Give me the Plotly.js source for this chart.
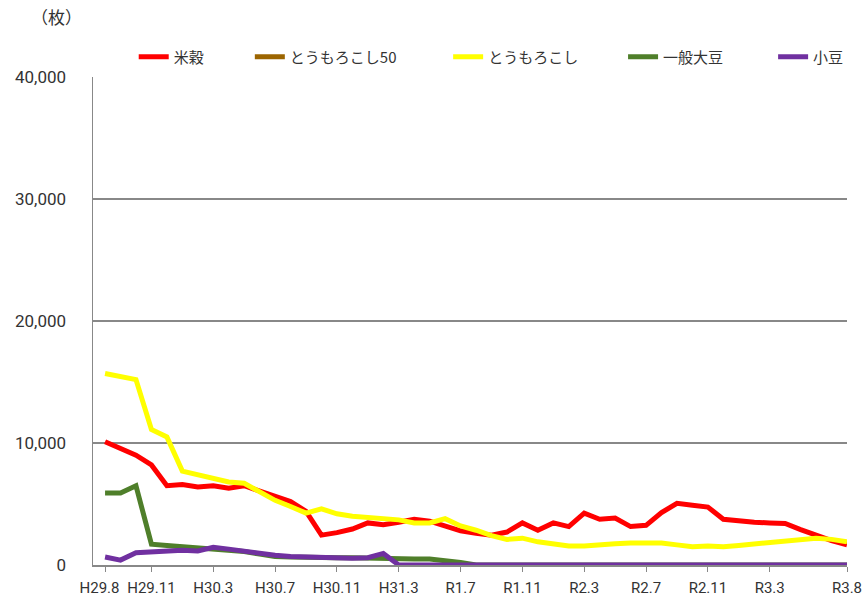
<!DOCTYPE html>
<html>
<head>
<meta charset="utf-8">
<script src="https://cdn.plot.ly/plotly-3.0.1.min.js"></script>
<style>html,body{margin:0;padding:0;background:#fff;}#chart{width:867px;height:604px;}</style>
</head>
<body>
<div id="chart"></div>
<script>
const months = ['H29.8','H29.9','H29.10','H29.11','H29.12',
  'H30.1','H30.2','H30.3','H30.4','H30.5','H30.6','H30.7','H30.8','H30.9','H30.10','H30.11','H30.12',
  'H31.1','H31.2','H31.3','H31.4',
  'R1.5','R1.6','R1.7','R1.8','R1.9','R1.10','R1.11','R1.12',
  'R2.1','R2.2','R2.3','R2.4','R2.5','R2.6','R2.7','R2.8','R2.9','R2.10','R2.11','R2.12',
  'R3.1','R3.2','R3.3','R3.4','R3.5','R3.6','R3.7','R3.8'];
const tickLabels = ['H29.8','H29.11','H30.3','H30.7','H30.11','H31.3','R1.7','R1.11','R2.3','R2.7','R2.11','R3.3','R3.8'];

const rice = [10100,9500,9000,8200,6500,6600,6400,6500,6300,6500,6100,5600,5200,4400,2450,2650,2950,3450,3300,3500,3750,3600,3200,2800,2600,2450,2700,3450,2850,3450,3150,4250,3750,3850,3150,3250,4300,5050,4900,4750,3750,3600,3500,3450,3400,2900,2400,2000,1650];
const corn50 = [null,null,null,null,null,null,null,null,null,null,null,null,null,null,null,null,null,null,null,null,null,null,null,null,null,null,null,null,null,null,null,null,null,null,null,null,null,null,null,null,null,null,null,null,null,null,null,null,null];
const corn = [15700,15500,15200,11100,10500,7700,7400,7000,6800,6700,6000,5300,4800,4250,4600,4200,4000,3900,3850,3700,3450,3450,3800,3200,2850,2400,2100,2200,1900,1700,1550,1550,1700,1750,1800,1850,1800,1650,1500,1550,1500,1600,1700,1800,2000,2100,2200,2100,1900];
const soybean = [5900,5900,6500,1700,1600,1500,1400,1300,1250,1100,900,700,650,600,600,600,600,550,550,500,500,500,400,200,0,0,0,0,0,0,0,0,0,0,0,0,0,0,0,0,0,0,0,0,0,0,0,0,0];
const azuki = [650,400,1000,1100,1100,1200,1150,1450,1300,1100,950,800,700,650,650,650,550,600,950,0,0,0,0,0,0,0,0,0,0,0,0,0,0,0,0,0,0,0,0,0,0,0,0,0,0,0,0,0,0];

const names = ['米穀','とうもろこし50','とうもろこし','一般大豆','小豆'];
const series = [rice, corn50, corn, soybean, azuki];
const colors = ['#FF0000','#9C6500','#FFFF00','#4F7F2A','#7030A0'];
const legendIds = ['legend','legend2','legend3','legend4','legend5'];
const legendX = [0.054, 0.208, 0.471, 0.703, 0.902];

const traces = series.map((s,i)=>({
  x: months, y: s, name: names[i], type:'scatter', mode:'lines',
  line:{color:colors[i], width:5}, connectgaps:false, legend: legendIds[i]
}));

// first label padded so it sits slightly left of its tick, as in the original
const tickText = tickLabels.map((t,i)=> i===0 ? t + '\u00a0\u00a0\u00a0' : t);

const font = 'Noto Sans CJK JP, Noto Sans, sans-serif';
const numFont = 'Roboto, Noto Sans, sans-serif';
const layout = {
  width:867, height:604,
  margin:{l:93, r:20, t:77, b:39},
  paper_bgcolor:'#fff', plot_bgcolor:'#fff',
  font:{family:font, size:14, color:'#333'},
  showlegend:true,
  xaxis:{type:'category', categoryorder:'array', categoryarray:months,
    range:[-0.78, 48], tickmode:'array', tickvals:tickLabels, ticktext:tickText,
    showgrid:false, showline:true, linecolor:'#888', linewidth:1.5,
    ticks:'outside', ticklen:5, tickcolor:'#888', tickangle:0, ticklabelstandoff:3,
    tickfont:{family:numFont, size:15, color:'#333'}, zeroline:false},
  yaxis:{range:[0,40000], tickvals:[0,10000,20000,30000,40000], tickformat:',d',
    showgrid:true, gridcolor:'#888', gridwidth:1.5,
    showline:true, linecolor:'#888', linewidth:1.5, zeroline:false,
    ticks:'', ticklabelstandoff:22,
    tickfont:{family:numFont, size:17, color:'#333'}},
  annotations:[{text:'（枚）', xref:'paper', yref:'paper', x:-0.085, y:1.125,
    xanchor:'left', yanchor:'middle', showarrow:false,
    font:{family:font, size:17, color:'#333'}}]
};
legendIds.forEach((id,i)=>{
  layout[id] = {orientation:'h', x:legendX[i], xanchor:'left', y:1.041, yanchor:'middle',
    font:{family:font, size:15, color:'#333'}, bgcolor:'rgba(0,0,0,0)', borderwidth:0};
});
Plotly.newPlot('chart', traces, layout, {displayModeBar:false, staticPlot:true});
</script>
</body>
</html>
